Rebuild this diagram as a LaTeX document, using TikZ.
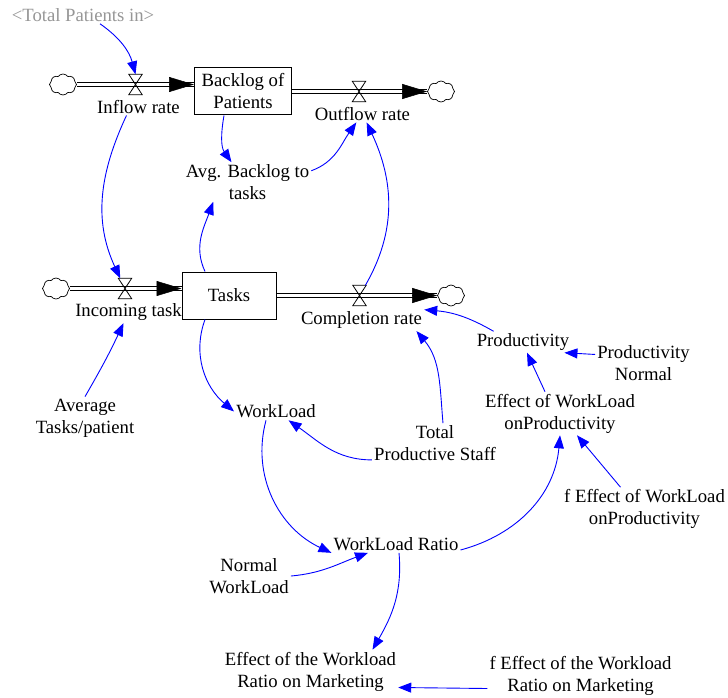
\documentclass[tikz,border=0pt]{standalone}
\usepackage{fontspec}
\setmainfont{Liberation Serif}
\usetikzlibrary{arrows.meta,positioning,shapes.symbols}

\definecolor{linkblue}{RGB}{0,0,255}
\definecolor{shadowgray}{RGB}{150,150,150}
\newcommand{\varfont}{\fontsize{18.7}{22}\selectfont}
\newcommand{\drawvalve}[1]{\draw[line width=0.8pt] (#1.north west) -- (#1.south east) -- (#1.south west) -- (#1.north east) -- cycle;}

\tikzset{
  var/.style={align=center, font=\varfont, inner sep=2pt},
  stock/.style={draw, line width=1pt, fill=white, minimum height=47pt, align=center, font=\varfont, inner sep=2pt},
  valve/.style={minimum width=13pt, minimum height=20pt, inner sep=0pt},
  sink/.style={draw, cloud, cloud puffs=8, cloud puff arc=110, aspect=1.3, minimum width=27pt, minimum height=21pt, inner sep=0pt, line width=0.7pt},
  pipe/.style={double distance=3pt, line width=1pt},
  head/.style={-{Triangle[length=25pt,width=15pt]}, line width=0.5pt},
  link/.style={draw=linkblue, line width=0.9pt, -{Triangle[length=13pt,width=10pt]}}
}

\begin{document}
\begin{tikzpicture}[x=1pt, y=1pt]
        \useasboundingbox (0,0) rectangle (728,-698);

        % Stocks
        \node[stock, minimum width=97pt] (bk) at (243,-91.5) {Backlog of\\Patients};
        \node[stock, minimum width=94pt] (tk) at (229,-295.5) {Tasks};

        % Clouds and valves
        \node[sink] (c1) at (63,-84.5) {};
        \node[sink] (c2) at (441,-91.5) {};
        \node[sink] (c3) at (56,-288.5) {};
        \node[sink] (c4) at (451,-295.5) {};
        \node[valve] (v1) at (135.5,-84.5) {};
        \node[valve] (v2) at (359,-91.5) {};
        \node[valve] (v3) at (125,-288.5) {};
        \node[valve] (v4) at (359.5,-295.5) {};
        \coordinate (i1) at (v1 -| bk.west);
        \coordinate (i3) at (v3 -| tk.west);

        % Pipes
        \draw[pipe] (c1.east) -- (i1);
        \draw[head] ([xshift=-25pt]i1) -- (i1);
        \draw[pipe] (bk.east) -- (c2.west);
        \draw[head] ([xshift=-25pt]c2.west) -- (c2.west);
        \draw[pipe] (c3.east) -- (i3);
        \draw[head] ([xshift=-25pt]i3) -- (i3);
        \draw[pipe] (tk.east) -- (c4.west);
        \draw[head] ([xshift=-25pt]c4.west) -- (c4.west);
        \drawvalve{v1}
        \drawvalve{v2}
        \drawvalve{v3}
        \drawvalve{v4}

        % Rates
        \node[var, below=3pt of v1, xshift=3pt] (ir) {Inflow rate};
        \node[var, below=3pt of v2, xshift=3.5pt] (or) {Outflow rate};
        \node[var, below=3pt of v3, xshift=3.5pt] (it) {Incoming task};
        \node[var, below=4pt of v4, xshift=2pt] (cr) {Completion rate};

        % Auxiliaries
        \node[var, text=shadowgray] (tp) at (83,-15) {<Total Patients in>};
        \node[var] (avg) at (247.5,-182) {Avg. Backlog to\\tasks};
        \node[var] (prod) at (523,-342) {Productivity};
        \node[var] (pn) at (643.5,-363) {Productivity\\Normal};
        \node[var] (ewp) at (560,-413.5) {Effect of WorkLoad\\onProductivity};
        \node[var] (avgt) at (85,-418) {Average\\Tasks/patient};
        \node[var] (wl) at (276,-411.5) {WorkLoad};
        \node[var] (tps) at (435,-443) {Total\\Productive Staff};
        \node[var] (few) at (644.5,-509) {f Effect of WorkLoad\\onProductivity};
        \node[var] (wlr) at (396,-544) {WorkLoad Ratio};
        \node[var] (nw) at (249,-576) {Normal\\WorkLoad};
        \node[var] (ewm) at (310.5,-671.5) {Effect of the Workload\\Ratio on Marketing};
        \node[var] (fem) at (580.5,-675.5) {f Effect of the Workload\\Ratio on Marketing};

        % Links
        \draw[link] ([xshift=17pt]tp.south) to[out=-35,in=105] (v1.north);
        \draw[link] ([xshift=-19pt]bk.south) to[out=-100,in=125] (avg.129);
        \draw[link] (avg.10) to[out=20,in=-125] (or);
        \draw[link] ([xshift=-12pt]ir.south) to[out=-115,in=115] (v3);
        \draw[link] ([xshift=-24pt]tk.north) to[out=115,in=-110] (avg.-150);
        \draw[link] (v4) to[out=60,in=-65] (or);
        \draw[link] (avgt.north) to[out=60,in=-115] (it);
        \draw[link] ([xshift=-24pt]tk.south) to[out=-110,in=140] (wl.west);
        \draw[link] ([xshift=8pt]tps.north) to[out=95,in=-50] (cr.-11);
        \draw[link] (tps.-165) to[out=180,in=-35] (wl);
        \draw[link] (prod.160) to[out=150,in=-5] (cr.north east);
        \draw[link] (pn.170) -- ([xshift=-7pt]prod.south east);
        \draw[link] ([xshift=-15pt]ewp.north) -- ([xshift=4pt]prod.south);
        \draw[link] ([xshift=-10pt]wl.south) to[out=-105,in=155] (wlr.south west);
        \draw[link] (nw.east) to[out=5,in=-160] ([xshift=-28pt]wlr.south);
        \draw[link] ([yshift=-6pt]wlr.east) to[out=15,in=-95] (ewp.south);
        \draw[link] ([xshift=-24pt]few.north) -- ([xshift=17pt]ewp.south);
        \draw[link] ([xshift=3pt]wlr.south) to[out=-85,in=60] ([xshift=62pt]ewm.north);
        \draw[link] ([yshift=-13pt]fem.west) -- ([yshift=-16pt]ewm.east);
\end{tikzpicture}
\end{document}
